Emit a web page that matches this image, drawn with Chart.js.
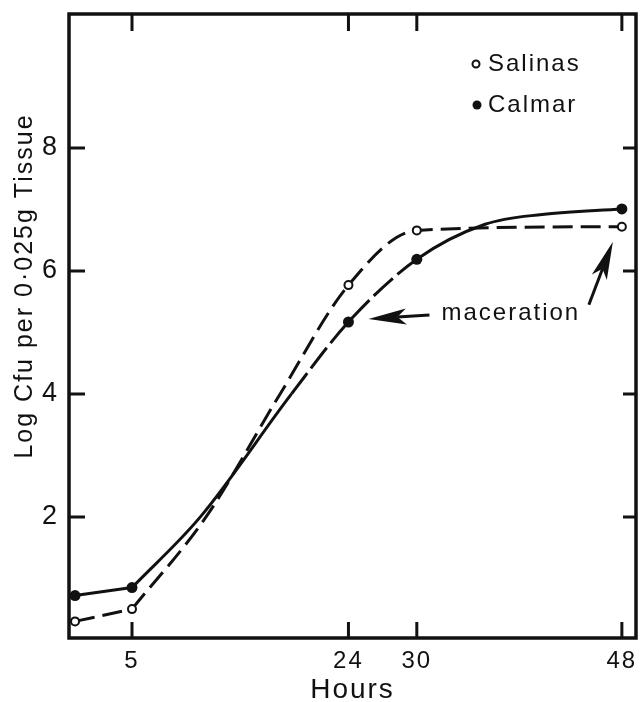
<!DOCTYPE html>
<html>
<head>
<meta charset="utf-8">
<script src="https://cdn.jsdelivr.net/npm/chart.js@4.4.1/dist/chart.umd.min.js"></script>
<style>
html,body{margin:0;padding:0;background:#fff;}
#wrap{width:642px;height:702px;position:relative;}
</style>
</head>
<body>
<div id="wrap"><canvas id="c"></canvas></div>
<script>
// ---- data ----
const hours = [0, 5, 24, 30, 48];
const salinas = [0.30, 0.50, 5.77, 6.66, 6.72];
const calmar = [0.72, 0.85, 5.17, 6.19, 7.01];
// points (no markers there)
const salinasTraceHours = [11.5, 18];
const salinasTraceValues = [2.0, 4.0];
const calmarTraceHours = [11, 19, 36, 41];
const calmarTraceValues = [2.0, 4.0, 6.76, 6.92];
const xTickValues = [5, 24, 30, 48];
const yTickValues = [2, 4, 6, 8];
const seriesNames = ['Salinas', 'Calmar'];
const xTitle = 'Hours';
const yTitle = 'Log Cfu per 0\u00B7025g Tissue';
const noteText = 'maceration';

const INK = '#111';
const FAMILY = '"Liberation Sans", Arial, Helvetica, sans-serif';
Chart.defaults.font.family = FAMILY;
Chart.defaults.color = INK;

const toPts = (xs, ys) => xs.map((x, i) => ({x: x, y: ys[i]}));
const byX = (a, b) => a.x - b.x;
const salinasPts = toPts(hours, salinas);
const calmarPts = toPts(hours, calmar);
// first (straight) stretch 0-5 h and the curved remainder from 5 h on
const salinasHead = salinasPts.filter(p => p.x <= 5);
const calmarHead = calmarPts.filter(p => p.x <= 5);
const salinasBody = salinasPts.filter(p => p.x >= 5).concat(toPts(salinasTraceHours, salinasTraceValues)).sort(byX);
const calmarBody = calmarPts.filter(p => p.x >= 5).concat(toPts(calmarTraceHours, calmarTraceValues)).sort(byX);

function drawArrow(ctx, sx, sy, tx, ty) {
  const ang = Math.atan2(ty - sy, tx - sx);
  const d = Math.hypot(tx - sx, ty - sy);
  const L = 38, W = 8, N = 9;
  ctx.save();
  ctx.translate(tx, ty);
  ctx.rotate(ang);
  ctx.beginPath();
  ctx.moveTo(-d, 0);
  ctx.lineTo(-L + N, 0);
  ctx.lineWidth = 3;
  ctx.stroke();
  ctx.beginPath();
  ctx.moveTo(0, 0);
  ctx.lineTo(-L, -W);
  ctx.lineTo(-L + N, 0);
  ctx.lineTo(-L, W);
  ctx.closePath();
  ctx.fill();
  ctx.restore();
}

const decor = {
  id: 'decor',
  beforeDraw(chart) {
    chart.ctx.letterSpacing = '2px';
  },
  afterDatasetsDraw(chart) {
    const ctx = chart.ctx;
    const {left, right, top, bottom} = chart.chartArea;
    const xs = chart.scales.x, ys = chart.scales.y;
    ctx.save();
    ctx.strokeStyle = INK;
    ctx.fillStyle = INK;
    ctx.lineCap = 'butt';
    // frame
    ctx.lineWidth = 3.5;
    ctx.lineJoin = 'miter';
    ctx.strokeRect(left, top, right - left, bottom - top);
    // inward ticks on all four sides
    ctx.lineWidth = 3;
    ctx.beginPath();
    xTickValues.forEach(v => {
      const px = xs.getPixelForValue(v);
      ctx.moveTo(px, bottom); ctx.lineTo(px, bottom - 16);
      ctx.moveTo(px, top); ctx.lineTo(px, top + 17);
    });
    yTickValues.forEach(v => {
      const py = ys.getPixelForValue(v);
      ctx.moveTo(left, py); ctx.lineTo(left + 16, py);
      ctx.moveTo(right, py); ctx.lineTo(right - 13, py);
    });
    ctx.stroke();

    // y axis title
    ctx.save();
    ctx.translate(left - 43.5, top + 272);
    ctx.rotate(-Math.PI / 2);
    ctx.font = '25px ' + FAMILY;
    ctx.textAlign = 'center';
    ctx.textBaseline = 'middle';
    ctx.fillText(yTitle, 0, 0);
    ctx.restore();

    // legend inside the plot
    const lx = right - 160, ly = top + 50, dy = 41;
    ctx.font = '24px ' + FAMILY;
    ctx.textAlign = 'left';
    ctx.textBaseline = 'middle';
    ctx.lineWidth = 2;
    ctx.beginPath();
    ctx.arc(lx, ly, 3.5, 0, Math.PI * 2);
    ctx.fillStyle = '#fff';
    ctx.fill();
    ctx.stroke();
    ctx.fillStyle = INK;
    ctx.fillText(seriesNames[0], lx + 12, ly);
    ctx.beginPath();
    ctx.arc(lx + 1, ly + dy, 4.5, 0, Math.PI * 2);
    ctx.fill();
    ctx.fillText(seriesNames[1], lx + 12, ly + dy);

    // "maceration" note with arrows to the affected points
    const p1x = xs.getPixelForValue(hours[2]), p1y = ys.getPixelForValue(calmar[2]);
    const p2x = xs.getPixelForValue(hours[4]), p2y = ys.getPixelForValue(salinas[4]);
    ctx.font = '24px ' + FAMILY;
    ctx.fillText(noteText, p1x + 93, p1y - 9);
    drawArrow(ctx, p1x + 81, p1y - 7, p1x + 20, p1y - 3);
    drawArrow(ctx, p2x - 33, p2y + 78, p2x - 9, p2y + 15);
    ctx.restore();
  }
};

const noPad = s => { s.paddingTop = 0; s.paddingBottom = 0; s.paddingLeft = 0; s.paddingRight = 0; };

const lineBase = {borderColor: INK, borderWidth: 3, pointRadius: 0, fill: false};

new Chart(document.getElementById('c'), {
  type: 'line',
  data: {
    datasets: [
      {
        label: seriesNames[0] + ' points',
        data: salinasPts,
        showLine: false,
        pointRadius: 4,
        pointBorderWidth: 2,
        pointBackgroundColor: '#fff',
        pointBorderColor: INK
      },
      {
        label: seriesNames[1] + ' points',
        data: calmarPts,
        showLine: false,
        pointRadius: 5.5,
        pointBorderWidth: 0,
        pointBackgroundColor: INK,
        pointBorderColor: INK
      },
      Object.assign({label: seriesNames[0] + ' 0-5 h', data: salinasHead, borderDash: [20, 8], tension: 0}, lineBase),
      Object.assign({label: seriesNames[1] + ' 0-5 h', data: calmarHead, tension: 0}, lineBase),
      Object.assign({label: seriesNames[0], data: salinasBody, borderDash: [20, 8], cubicInterpolationMode: 'monotone'}, lineBase),
      Object.assign({
        label: seriesNames[1], data: calmarBody, cubicInterpolationMode: 'monotone',
        segment: {borderDash: c => (c.p0.parsed.x >= 19 && c.p0.parsed.x < 30) ? [26, 6] : []}
      }, lineBase)
    ]
  },
  options: {
    responsive: true,
    maintainAspectRatio: false,
    animation: false,
    devicePixelRatio: 1,
    layout: {padding: {top: 14, right: 2, left: 0, bottom: 0}},
    plugins: {legend: {display: false}, tooltip: {enabled: false}},
    scales: {
      x: {
        type: 'linear',
        min: -0.53,
        max: 49.24,
        afterBuildTicks: s => { s.ticks = xTickValues.map(v => ({value: v})); },
        afterFit: s => { s.height = 64; noPad(s); },
        grid: {display: false, drawTicks: false},
        border: {display: false},
        ticks: {font: {size: 24, lineHeight: 1}, color: INK, padding: 11, maxRotation: 0, autoSkip: false},
        title: {display: true, text: xTitle, color: INK, font: {size: 28, lineHeight: 0.85}, padding: {top: 0, bottom: 0}}
      },
      y: {
        type: 'linear',
        min: 0.03,
        max: 10.18,
        afterBuildTicks: s => { s.ticks = yTickValues.map(v => ({value: v})); },
        afterFit: s => { s.width = 69; noPad(s); },
        grid: {display: false, drawTicks: false},
        border: {display: false},
        ticks: {font: {size: 27, lineHeight: 1}, color: INK, padding: 10, autoSkip: false}
      }
    }
  },
  plugins: [decor]
});
</script>
</body>
</html>
